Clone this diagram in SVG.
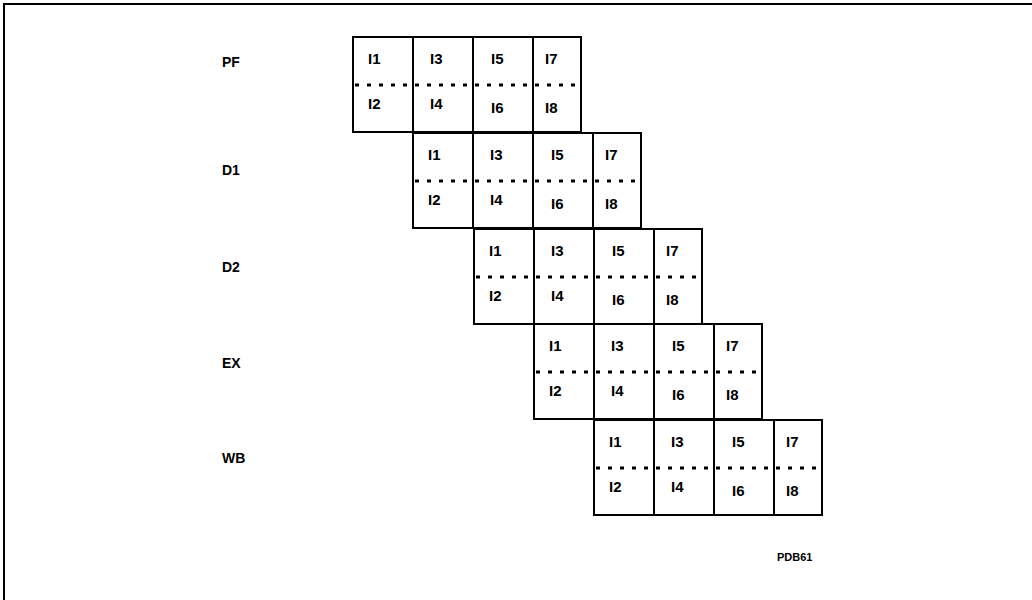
<svg xmlns="http://www.w3.org/2000/svg" width="1032" height="600" viewBox="0 0 1032 600">
<style>
.frame{fill:none;stroke:#000;stroke-width:2}
.box{fill:#fff;stroke:#000;stroke-width:2}
.div{stroke:#000;stroke-width:2}
.dot{stroke:#000;stroke-width:3;stroke-dasharray:4 8}
.lbl{font-family:"Liberation Sans",Arial,sans-serif;font-weight:bold;font-size:15px;fill:#000}
.stage{font-family:"Liberation Sans",Arial,sans-serif;font-weight:bold;font-size:14px;fill:#000}
.ref{font-family:"Liberation Sans",Arial,sans-serif;font-weight:bold;font-size:11px;fill:#000}
</style>
<defs>
<g id="row">
<rect class="box" x="0" y="0" width="228" height="95"/>
<line class="div" x1="60" y1="0" x2="60" y2="95"/>
<line class="div" x1="120" y1="0" x2="120" y2="95"/>
<line class="div" x1="180" y1="0" x2="180" y2="95"/>
<line class="dot" x1="2" y1="48" x2="228" y2="48"/>
<text class="lbl" x="15" y="27">I1</text>
<text class="lbl" x="77" y="27">I3</text>
<text class="lbl" x="138" y="27">I5</text>
<text class="lbl" x="192" y="27">I7</text>
<text class="lbl" x="15" y="72">I2</text>
<text class="lbl" x="77" y="72">I4</text>
<text class="lbl" x="138" y="76">I6</text>
<text class="lbl" x="192" y="76">I8</text>
</g>
</defs>
<rect width="1032" height="600" fill="#fff"/>
<polyline class="frame" points="4,600 4,4 1032,4"/>
<g id="PF">
<text class="stage" x="222" y="67">PF</text>
<use href="#row" x="353" y="37"/>
</g>
<g id="D1">
<text class="stage" x="222" y="175">D1</text>
<use href="#row" x="413" y="133"/>
</g>
<g id="D2">
<text class="stage" x="222" y="272">D2</text>
<use href="#row" x="474" y="229"/>
</g>
<g id="EX">
<text class="stage" x="222" y="368">EX</text>
<use href="#row" x="534" y="324"/>
</g>
<g id="WB">
<text class="stage" x="222" y="463">WB</text>
<use href="#row" x="594" y="420"/>
</g>
<g id="connectors"></g>
<text class="ref" x="777" y="561">PDB61</text>
</svg>
